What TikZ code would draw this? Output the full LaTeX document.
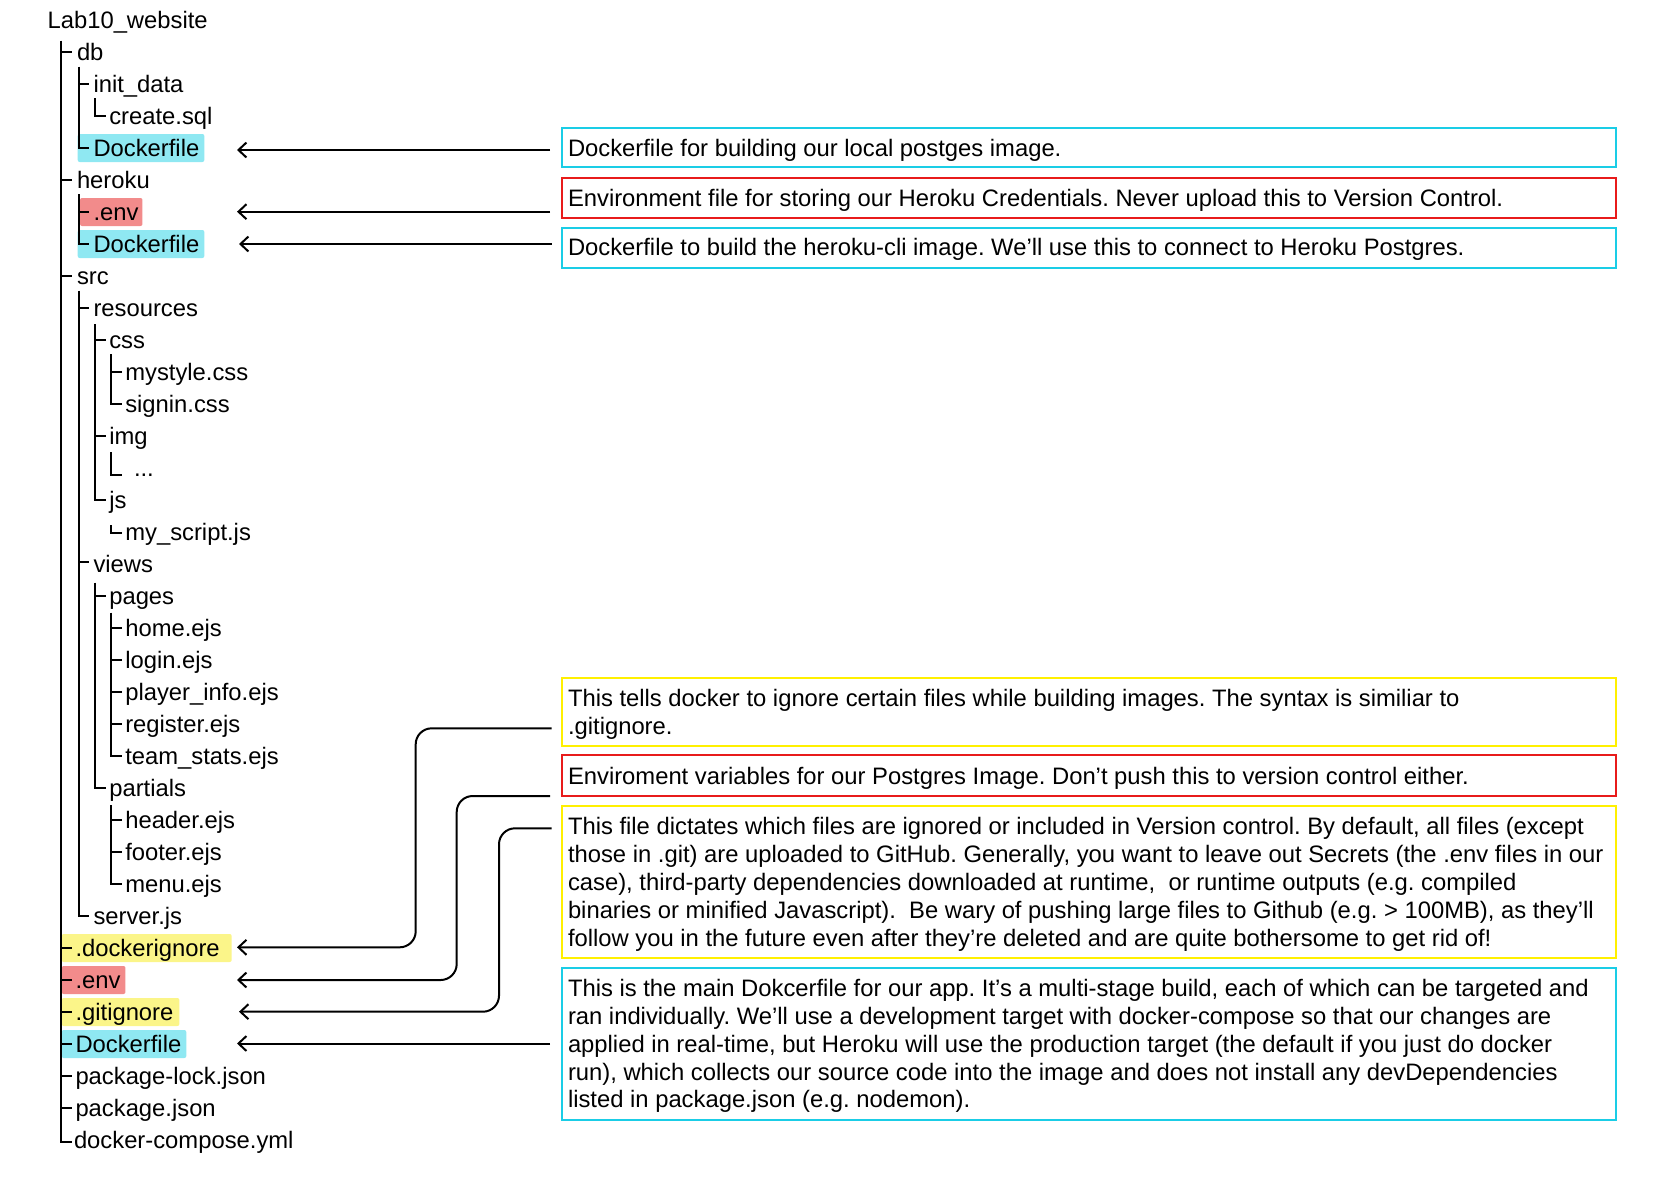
\documentclass[tikz,border=0pt]{standalone}
\usepackage{fontspec}
\setmainfont{Liberation Sans}
\usetikzlibrary{arrows.meta,calc}
\pgfdeclarelayer{bg}
\pgfsetlayers{bg,main}
\definecolor{hlcyan}{HTML}{8FE8F2}
\definecolor{hlred}{HTML}{F28B8B}
\definecolor{hlyellow}{HTML}{FBF589}
\definecolor{bdcyan}{HTML}{1ACDE6}
\definecolor{bdred}{HTML}{E81B1B}
\definecolor{bdyellow}{HTML}{FFF000}
\newcommand{\boxlines}[1]{\vtop{\baselineskip=27.9pt\lineskiplimit=-20pt #1}}
\begin{document}
\frenchspacing
\begin{tikzpicture}[x=1pt,y=-1pt,
  every node/.style={inner sep=0pt, outer sep=0pt, font=\fontsize{23.8}{28}\selectfont\frenchspacing},
  item/.style={anchor=base west},
  tree/.style={line width=2pt},
  hl/.style={rounded corners=2pt},
  note/.style={draw, line width=2pt, anchor=north west, minimum width=1054pt},
  notetext/.style={anchor=base west},
  conn/.style={line width=2pt, -{Straight Barb[length=8pt,width=15pt]}},
  bent/.style={conn, rounded corners=16pt}]
\useasboundingbox (0,0) rectangle (1660,1202);

% ---------- tree texts ----------
\node[item] (n0) at (47.6,28) {Lab10\_website};
\node[item] (n1) at (77,60) {db};
\node[item] (n2) at (93.5,92) {init\_data};
\node[item] (n3) at (109.3,124) {create.sql};
\node[item] (n4) at (93.5,156) {Dockerfile};
\node[item] (n5) at (77,188) {heroku};
\node[item] (n6) at (93.5,220) {.env};
\node[item] (n7) at (93.5,252) {Dockerfile};
\node[item] (n8) at (77,284) {src};
\node[item] (n9) at (93.5,316) {resources};
\node[item] (n10) at (109.3,348) {css};
\node[item] (n11) at (125.3,380) {mystyle.css};
\node[item] (n12) at (125.3,412) {signin.css};
\node[item] (n13) at (109.3,444) {img};
\node[item] (n14) at (134,476) {...};
\node[item] (n15) at (109.3,508) {js};
\node[item] (n16) at (125.3,540) {my\_script.js};
\node[item] (n17) at (93.5,572) {views};
\node[item] (n18) at (109.3,604) {pages};
\node[item] (n19) at (125.3,636) {home.ejs};
\node[item] (n20) at (125.3,668) {login.ejs};
\node[item] (n21) at (125.3,700) {player\_info.ejs};
\node[item] (n22) at (125.3,732) {register.ejs};
\node[item] (n23) at (125.3,764) {team\_stats.ejs};
\node[item] (n24) at (109.3,796) {partials};
\node[item] (n25) at (125.3,828) {header.ejs};
\node[item] (n26) at (125.3,860) {footer.ejs};
\node[item] (n27) at (125.3,892) {menu.ejs};
\node[item] (n28) at (93.5,924) {server.js};
\node[item] (n29) at (75.5,956) {.dockerignore};
\node[item] (n30) at (75.5,988) {.env};
\node[item] (n31) at (75.5,1020) {.gitignore};
\node[item] (n32) at (75.5,1052) {Dockerfile};
\node[item] (n33) at (75.5,1084) {package-lock.json};
\node[item] (n34) at (75.5,1116) {package.json};
\node[item] (n35) at (74,1148) {docker-compose.yml};

% ---------- highlights ----------
\begin{pgfonlayer}{bg}
\fill[hlcyan,hl] (77.7,134) rectangle ($(n4.east|-0,162)+(5,0)$);
\fill[hlred,hl] (80,198) rectangle ($(n6.east|-0,226)+(4,0)$);
\fill[hlcyan,hl] (77.7,230) rectangle ($(n7.east|-0,258)+(5,0)$);
\fill[hlyellow,hl] (61.7,934) rectangle ($(n29.east|-0,962)+(12,0)$);
\fill[hlred,hl] (61.7,966) rectangle ($(n30.east|-0,994)+(5,0)$);
\fill[hlyellow,hl] (61.7,998) rectangle ($(n31.east|-0,1026)+(6,0)$);
\fill[hlcyan,hl] (61.7,1030) rectangle ($(n32.east|-0,1058)+(5,0)$);
\end{pgfonlayer}

% ---------- tree lines ----------
\draw[tree] (61,40.7) -- (61,1141.7) -- (71.7,1141.7);
\foreach \y in {52,180,276,948,980,1012,1044,1076,1108} \draw[tree] (61,\y) -- (71.7,\y);
\draw[tree] (79.3,66.7) -- (79.3,148) -- (89.3,148);
\draw[tree] (79.3,84) -- (89.3,84);
\draw[tree] (95,98.3) -- (95,116) -- (106,116);
\draw[tree] (79.3,194) -- (79.3,244) -- (89.3,244);
\draw[tree] (79.3,212) -- (89.3,212);
\draw[tree] (79.3,290.7) -- (79.3,916) -- (89.3,916);
\foreach \y in {308,562} \draw[tree] (79.3,\y) -- (89.3,\y);
\draw[tree] (95,324.3) -- (95,500) -- (106,500);
\foreach \y in {340,436} \draw[tree] (95,\y) -- (106,\y);
\draw[tree] (111,354) -- (111,404) -- (121.7,404);
\draw[tree] (111,372) -- (121.7,372);
\draw[tree] (111,452) -- (111,475) -- (121.7,475);
\draw[tree] (111,525) -- (111,533) -- (121.7,533);
\draw[tree] (95,582.7) -- (95,788) -- (106,788);
\draw[tree] (95,596) -- (106,596);
\draw[tree] (111,612.7) -- (111,756) -- (121.7,756);
\foreach \y in {628,660,692,724} \draw[tree] (111,\y) -- (121.7,\y);
\draw[tree] (111,805) -- (111,884) -- (121.7,884);
\foreach \y in {820,852} \draw[tree] (111,\y) -- (121.7,\y);

% ---------- note boxes ----------
\node[note, draw=bdcyan, minimum height=39pt] (b1) at (562,128) {};
\node[note, draw=bdred, minimum height=40pt] (b2) at (562,178) {};
\node[note, draw=bdcyan, minimum height=40pt] (b3) at (562,228) {};
\node[note, draw=bdyellow, minimum height=68pt] (b4) at (562,678) {};
\node[note, draw=bdred, minimum height=41pt] (b5) at (562,755) {};
\node[note, draw=bdyellow, minimum height=152pt] (b6) at (562,806) {};
\node[note, draw=bdcyan, minimum height=152pt] (b7) at (562,968) {};

\node[notetext] (t1) at (568,156) {Dockerfile for building our local postges image.};
\node[notetext] (t2) at (568,206) {Environment file for storing our Heroku Credentials. Never upload this to Version Control.};
\node[notetext] (t3) at (568,255.7) {Dockerfile to build the heroku-cli image. We’ll use this to connect to Heroku Postgres.};
\node[notetext] (t4) at (568,706.5) {\boxlines{\hbox{This tells docker to ignore certain files while building images. The syntax is similiar to}\hbox{.gitignore.}}};
\node[notetext] (t5) at (568,784) {Enviroment variables for our Postgres Image. Don’t push this to version control either.};
\node[notetext] (t6) at (568,834.7) {\boxlines{%
\hbox{This file dictates which files are ignored or included in Version control. By default, all files (except}%
\hbox{those in .git) are uploaded to GitHub. Generally, you want to leave out Secrets (the .env files in our}%
\hbox{case), third-party dependencies downloaded at runtime,~ or runtime outputs (e.g. compiled}%
\hbox{binaries or minified Javascript).~ Be wary of pushing large files to Github (e.g. > 100MB), as they’ll}%
\hbox{follow you in the future even after they’re deleted and are quite bothersome to get rid of!}}};
\node[notetext] (t7) at (568,996.3) {\boxlines{%
\hbox{This is the main Dokcerfile for our app. It’s a multi-stage build, each of which can be targeted and}%
\hbox{ran individually. We’ll use a development target with docker-compose so that our changes are}%
\hbox{applied in real-time, but Heroku will use the production target (the default if you just do docker}%
\hbox{run), which collects our source code into the image and does not install any devDependencies}%
\hbox{listed in package.json (e.g. nodemon).}}};

% ---------- connectors ----------
\coordinate (e1) at (237,150);
\coordinate (e2) at (237,211.7);
\coordinate (e3) at (239,244);
\coordinate (e4) at (237,947.3);
\coordinate (e5) at (237,980);
\coordinate (e6) at (239,1011.7);
\coordinate (e7) at (237,1043.5);
\coordinate (s4) at ($(b4.west)+(-10.3,16.3)$);
\coordinate (s5) at ($(b5.west)+(-12,20.5)$);
\coordinate (s6) at ($(b6.north west)+(-10.3,22.3)$);
\draw[conn] ($(b1.west|-e1)+(-12,0)$) -- (e1);
\draw[conn] ($(b2.west|-e2)+(-12,0)$) -- (e2);
\draw[conn] ($(b3.west|-e3)+(-10.3,0)$) -- (e3);
\draw[bent] (s4) -| (415.7,947.3) -- (e4);
\draw[bent] (s5) -| (456.7,980) -- (e5);
\draw[bent] (s6) -| (499,1011.7) -- (e6);
\draw[conn] ($(b7.west|-e7)+(-12,0)$) -- (e7);
\end{tikzpicture}
\end{document}
